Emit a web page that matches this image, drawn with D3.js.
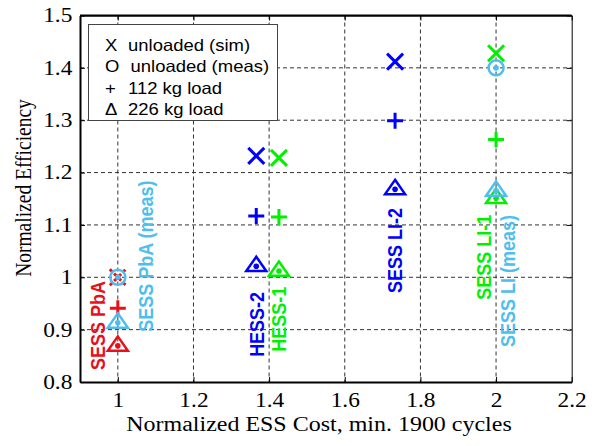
<!DOCTYPE html>
<html>
<head>
<meta charset="utf-8">
<script src="https://cdn.jsdelivr.net/npm/d3@7"></script>
<style>
  body { margin: 0; background: #fff; }
  .tick text { font-family: "Liberation Serif", "Times New Roman", serif; font-size: 20px; fill: #000; }
</style>
</head>
<body>
<div id="chart"></div>
<script>
// one entry per storage system, in plotting order
var systems = ["SESS PbA", "SESS PbA (meas)", "HESS-2", "HESS-1", "SESS LI-2", "SESS LI-1", "SESS LI (meas)"];
var colors = ["#e8101a", "#4dbeee", "#0000ff", "#00f000", "#0000ff", "#00f000", "#4dbeee"];
var cost = [1, 1, 1.366, 1.426, 1.733, 2, 2];
var unloadedSim = [1.0, null, 1.232, 1.228, 1.412, 1.428, null];
var unloadedMeas = [null, 1.0, null, null, null, null, 1.4];
var load112 = [0.941, null, 1.117, 1.115, 1.299, 1.263, null];
var load226 = [0.869, 0.913, 1.021, 1.012, 1.168, 1.151, 1.165];

// text() anchors for the rotated names, data units (bottom end of the text)
var labelX = [0.946, 1.074, 1.367, 1.424, 1.733, 1.968, 2.030];
var labelY = [0.823, 0.896, 0.848, 0.858, 0.970, 0.957, 0.867];

var legendSymbols = ["X", "O", "+", "\u0394"];
var legendLabels = ["unloaded (sim)", "unloaded (meas)", "112 kg load", "226 kg load"];

var xTicks = [1, 1.2, 1.4, 1.6, 1.8, 2, 2.2];
var yTicks = [0.8, 0.9, 1, 1.1, 1.2, 1.3, 1.4, 1.5];

var W = 596, H = 446;
var margin = {top: 15.5, right: 24.3, bottom: 64, left: 80};
var w = W - margin.left - margin.right,
    h = H - margin.top - margin.bottom;
var sx = 1.17; // the figure was exported a bit wider than tall

var svg = d3.select("#chart").append("svg")
  .attr("width", W).attr("height", H);
var g = svg.append("g").attr("transform", "translate(" + margin.left + "," + margin.top + ")");

var x = d3.scaleLinear().domain([0.9, 2.2]).range([0, w]);
var y = d3.scaleLinear().domain([0.8, 1.5]).range([h, 0]);
var fmt = function(d) { return String(+d.toFixed(1)); };

// dashed grid
g.append("g").selectAll("line").data(xTicks.filter(function(d) { return d < 2.2; }))
  .enter().append("line")
  .attr("x1", function(d) { return x(d); }).attr("x2", function(d) { return x(d); })
  .attr("y1", 0).attr("y2", h)
  .attr("stroke", "#333").attr("stroke-dasharray", "4,3");
g.append("g").selectAll("line").data(yTicks.filter(function(d) { return d > 0.8 && d < 1.5; }))
  .enter().append("line")
  .attr("x1", 0).attr("x2", w)
  .attr("y1", function(d) { return y(d); }).attr("y2", function(d) { return y(d); })
  .attr("stroke", "#333").attr("stroke-dasharray", "4,3");

// axes, matlab style inward ticks
var xAxis = g.append("g").attr("transform", "translate(0," + h + ")")
  .call(d3.axisBottom(x).tickValues(xTicks).tickFormat(fmt).tickSizeInner(-5).tickSizeOuter(0).tickPadding(11));
var yAxis = g.append("g")
  .call(d3.axisLeft(y).tickValues(yTicks).tickFormat(fmt).tickSizeInner(-5).tickSizeOuter(0).tickPadding(6.5));
g.append("g").call(d3.axisTop(x).tickValues(xTicks).tickFormat("").tickSizeInner(-5).tickSizeOuter(0));
g.append("g").attr("transform", "translate(" + w + ",0)")
  .call(d3.axisRight(y).tickValues(yTicks).tickFormat("").tickSizeInner(-5).tickSizeOuter(0));
xAxis.selectAll(".tick text").attr("transform", "scale(" + sx + ",1)");
yAxis.selectAll(".tick text").attr("transform", "scale(" + sx + ",1)");
g.selectAll(".domain").attr("stroke", "#000");
xAxis.select(".domain").attr("stroke-width", 2);
yAxis.select(".domain").attr("stroke-width", 2);
g.append("line").attr("x1", 0).attr("x2", w).attr("y1", 0).attr("y2", 0)
  .attr("stroke", "#000").attr("stroke-width", 2);

// axis titles
svg.append("text")
  .attr("transform", "translate(319,431) scale(" + sx + ",1)")
  .attr("text-anchor", "middle")
  .style("font-family", "Liberation Serif, serif").style("font-size", "20.5px")
  .text("Normalized ESS Cost, min. 1900 cycles");
svg.append("text")
  .attr("transform", "translate(31,188) scale(" + sx + ",1) rotate(-90)")
  .attr("text-anchor", "middle")
  .style("font-family", "Liberation Serif, serif").style("font-size", "19.5px")
  .text("Normalized Efficiency");

// markers
var sym = {
  cross: "M-8,-8L8,8M-8,8L8,-8",
  plus: "M-8,0H8M0,-8V8",
  tri: "M0,-9.5L10,4.8L-10,4.8Z"
};
var marks = g.append("g");
systems.forEach(function(name, i) {
  var c = colors[i], px = x(cost[i]);
  if (load226[i] != null) {
    marks.append("path").attr("d", sym.tri)
      .attr("transform", "translate(" + px + "," + y(load226[i]) + ")")
      .attr("fill", "none").attr("stroke", c).attr("stroke-width", 2.5).attr("stroke-linejoin", "miter");
    marks.append("circle").attr("cx", px).attr("cy", y(load226[i])).attr("r", 2.8).attr("fill", c);
  }
  if (load112[i] != null) {
    marks.append("path").attr("d", sym.plus)
      .attr("transform", "translate(" + px + "," + y(load112[i]) + ")")
      .attr("stroke", c).attr("stroke-width", 3);
  }
  if (unloadedSim[i] != null) {
    marks.append("path").attr("d", sym.cross)
      .attr("transform", "translate(" + px + "," + y(unloadedSim[i]) + ")")
      .attr("stroke", c).attr("stroke-width", 3)
      .attr("stroke-dasharray", i == 0 ? "4,2" : null);
  }
  if (unloadedMeas[i] != null) {
    marks.append("circle").attr("cx", px).attr("cy", y(unloadedMeas[i])).attr("r", 7.5)
      .attr("fill", "none").attr("stroke", c).attr("stroke-width", 2.5);
    marks.append("circle").attr("cx", px).attr("cy", y(unloadedMeas[i])).attr("r", 2.8).attr("fill", c);
  }
});

// rotated system names
g.append("g").selectAll("text").data(systems).enter().append("text")
  .attr("transform", function(d, i) {
    return "translate(" + x(labelX[i]) + "," + y(labelY[i]) + ") scale(" + sx + ",1) rotate(-90)";
  })
  .attr("dy", "0.35em")
  .style("font-family", "Liberation Sans, Arial, sans-serif")
  .style("font-size", "18px").style("font-weight", "bold")
  .attr("fill", function(d, i) { return colors[i]; })
  .text(function(d) { return d; });

// legend box
var leg = svg.append("g");
leg.append("rect").attr("x", 88.5).attr("y", 24.5).attr("width", 189).attr("height", 96)
  .attr("fill", "#fff").attr("stroke", "#444").attr("stroke-width", 1);
legendLabels.forEach(function(t, i) {
  var by = 50.5 + i * 21.6;
  leg.append("text").attr("transform", "translate(105," + by + ") scale(1.12,1)")
    .style("font-family", "Liberation Sans, Arial, sans-serif").style("font-size", "16.5px")
    .text(legendSymbols[i]);
  leg.append("text").attr("transform", "translate(" + (i == 1 ? 130.5 : 128) + "," + by + ") scale(1.12,1)")
    .style("font-family", "Liberation Sans, Arial, sans-serif").style("font-size", "16.5px")
    .text(t);
});
</script>
</body>
</html>
